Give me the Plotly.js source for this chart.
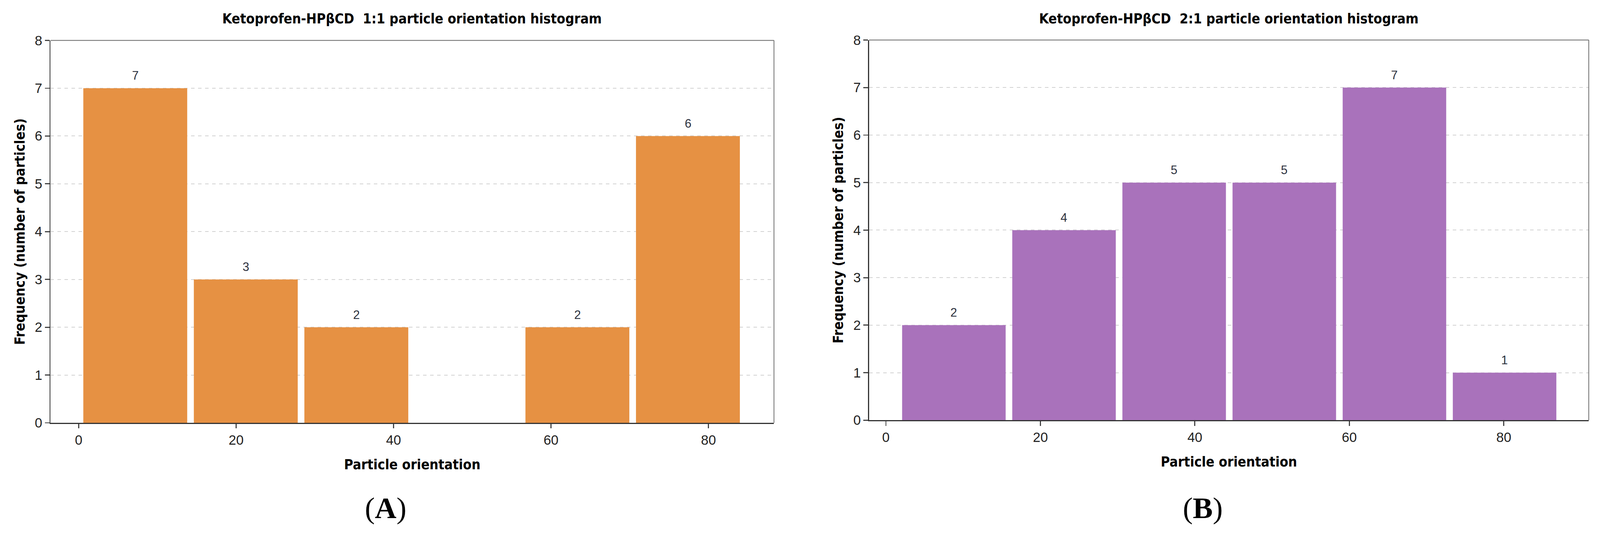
<!DOCTYPE html>
<html>
<head>
<meta charset="utf-8">
<script src="https://cdn.plot.ly/plotly-3.0.1.min.js"></script>
<style>
  html, body { margin: 0; padding: 0; background: #ffffff; overflow: hidden; }
  #chart { width: 100vw; height: 100vh; }
</style>
</head>
<body>
<div id="chart"></div>
<script>
// ==========================================================
// DATA
// ==========================================================

// (A) Ketoprofen-HPβCD 1:1
let binEdgesA = [0.17, 14.21, 28.25, 42.29, 56.33, 70.37, 84.41];
let countsA = [7, 3, 2, 0, 2, 6];

// (B) Ketoprofen-HPβCD 2:1
let binEdgesB = [1.67, 15.93, 30.19, 44.45, 58.71, 72.97, 87.23];
let countsB = [2, 4, 5, 5, 7, 1];

let xTickVals = [0, 20, 40, 60, 80];
let titleA = "Ketoprofen-HPβCD\u00a0 1:1 particle orientation histogram";
let titleB = "Ketoprofen-HPβCD\u00a0 2:1 particle orientation histogram";
let xTitle = "Particle orientation";
let yTitle = "Frequency (number of particles)";


// ==========================================================
// HELPERS
// ==========================================================

// design size; everything below is laid out in these pixels
const W = 4273, H = 1419;

// fit whatever viewport the page really gets
const vw = window.innerWidth || W;
const vh = window.innerHeight || H;
const s = Math.min(vw / W, vh / H);

function px(v){
    return v * s;
}

const narrow = "'Liberation Sans Narrow', 'DejaVu Sans Condensed', 'Liberation Sans', sans-serif";
const sans = "'Liberation Sans', Arial, sans-serif";

function centers(edges){
    return edges.slice(0, -1).map((e, i) => (e + edges[i + 1]) / 2);
}

function widths(edges){
    // bars fill ~94% of each bin
    return edges.slice(0, -1).map((e, i) => (edges[i + 1] - e) * 0.94);
}

function barTrace(edges, counts, color, xa, ya){
    return {
        type: "bar",
        x: centers(edges),
        y: counts,
        width: widths(edges),
        marker: { color: color, line: { width: 0 } },
        xaxis: xa,
        yaxis: ya,
        hoverinfo: "x+y",
        showlegend: false
    };
}

function valueLabels(edges, counts, xa, ya){
    let c = centers(edges);
    let out = [];
    counts.forEach((v, i) => {
        if (v <= 0) return;
        out.push({
            xref: xa, yref: ya,
            x: c[i], y: v,
            text: String(v),
            showarrow: false,
            yanchor: "middle",
            yshift: px(34),
            font: { family: sans, size: px(32), color: "#2b303d" }
        });
    });
    return out;
}

function xAxis(domain, range, anchor){
    return {
        domain: domain,
        range: range,
        anchor: anchor,
        tickvals: xTickVals,
        ticks: "outside",
        ticklen: px(12),
        tickwidth: px(3),
        tickcolor: "#444",
        showline: true,
        linecolor: "#333",
        linewidth: px(3),
        showgrid: false,
        zeroline: false,
        tickfont: { family: sans, size: px(36), color: "#222" },
        title: {
            text: xTitle,
            standoff: px(34),
            font: { family: narrow, size: px(37), color: "#000", weight: "bold" }
        }
    };
}

function yAxis(domain, anchor){
    return {
        domain: domain,
        range: [0, 8],
        anchor: anchor,
        dtick: 1,
        ticks: "outside",
        ticklen: px(12),
        tickwidth: px(3),
        tickcolor: "#444",
        showline: true,
        linecolor: "#333",
        linewidth: px(3),
        showgrid: true,
        gridcolor: "#d2d2d2",
        gridwidth: px(2),
        griddash: "dash",
        zeroline: false,
        tickfont: { family: sans, size: px(36), color: "#222" },
        title: {
            text: yTitle,
            standoff: px(16),
            font: { family: narrow, size: px(37), color: "#000", weight: "bold" }
        }
    };
}

// top and right frame lines
function frame(xa, ya){
    let line = { color: "#666", width: px(2) };
    return [
        { type: "line", xref: xa + " domain", yref: ya + " domain",
          x0: 0, x1: 1, y0: 1, y1: 1, line: line },
        { type: "line", xref: xa + " domain", yref: ya + " domain",
          x0: 1, x1: 1, y0: 0, y1: 1, line: line }
    ];
}

function panelTitle(text, xa){
    return {
        xref: xa + " domain", yref: "paper",
        x: 0.5, y: 1 - 50 / H,
        text: text,
        showarrow: false,
        xanchor: "center", yanchor: "middle",
        font: { family: narrow, size: px(37), color: "#000", weight: "bold" }
    };
}

function panelLetter(letter, x){
    return {
        xref: "paper", yref: "paper",
        x: x / W, y: 1 - 1358 / H,
        text: "(<b>" + letter + "</b>)",
        showarrow: false,
        xanchor: "center", yanchor: "middle",
        font: { family: "'Liberation Serif', 'Times New Roman', serif", size: px(80), color: "#000" }
    };
}


// ==========================================================
// PLOT
// ==========================================================

let data = [
    barTrace(binEdgesA, countsA, "#E69143", "x", "y"),
    barTrace(binEdgesB, countsB, "#A972BB", "x2", "y2")
];

let layout = {
    width: W * s,
    height: H * s,
    margin: { l: 0, r: 0, t: 0, b: 0 },
    paper_bgcolor: "#ffffff",
    plot_bgcolor: "#ffffff",
    showlegend: false,
    xaxis: xAxis([135 / W, 2067 / W], [-3.57, 88.32], "y"),
    yaxis: yAxis([(H - 1130) / H, (H - 108) / H], "x"),
    xaxis2: xAxis([2321 / W, 4243 / W], [-2.18, 91.0], "y2"),
    yaxis2: yAxis([(H - 1123) / H, (H - 107) / H], "x2"),
    shapes: frame("x", "y").concat(frame("x2", "y2")),
    annotations: []
        .concat(valueLabels(binEdgesA, countsA, "x", "y"))
        .concat(valueLabels(binEdgesB, countsB, "x2", "y2"))
        .concat([
            panelTitle(titleA, "x"),
            panelTitle(titleB, "x2"),
            panelLetter("A", 1030),
            panelLetter("B", 3212)
        ])
};

Plotly.newPlot("chart", data, layout, { staticPlot: true, displayModeBar: false });
</script>
</body>
</html>
